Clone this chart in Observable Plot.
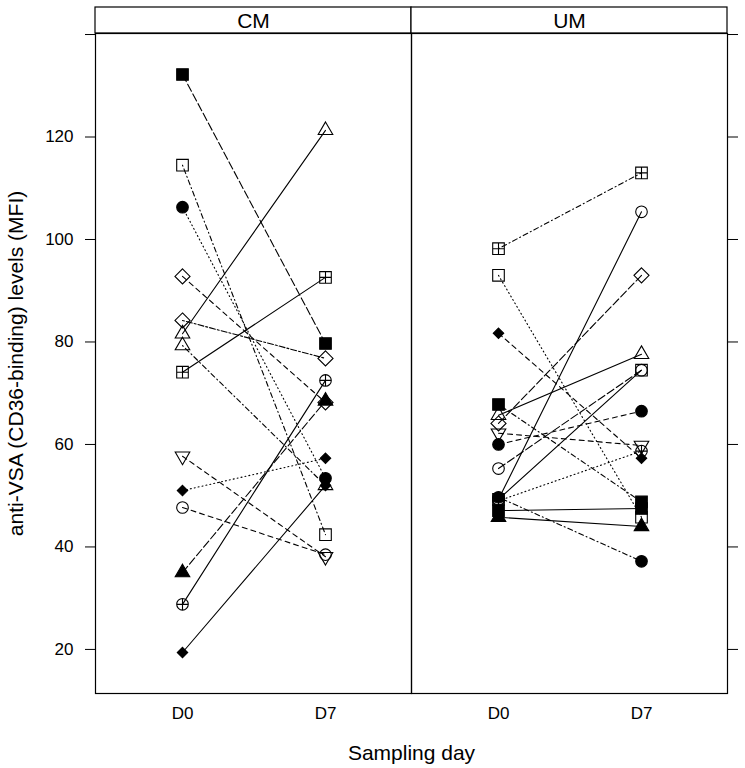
<!DOCTYPE html>
<html><head><meta charset="utf-8">
<script src="https://cdn.jsdelivr.net/npm/d3@7"></script>
<script src="https://cdn.jsdelivr.net/npm/@observablehq/plot@0.6"></script>
<style>body{margin:0;background:#fff;} svg{display:block}</style>
</head><body><div id="chart"></div>
<script>
const panels = ["CM", "UM"];
const days = ["D0", "D7"];
const yTicks = [20, 40, 60, 80, 100, 120, 140];

// CM subjects
const cmSymbol = ["filledSquare","openSquare","filledCircle","openDiamond","openDiamond","openTriangle","openTriangle","squarePlus","invTriangle","filledDiamond","openCircle","filledTriangle","circlePlus","filledDiamond"];
const cmLine   = ["longdash","dotdash","dotted","dashed","twodash","solid","dotdash","solid","dashed","dotted","dashed","longdash","solid","solid"];
const cmD0     = [132.2, 114.5, 106.3, 92.8, 84.2, 81.6, 79.3, 74.1, 57.7, 51.0, 47.7, 35.0, 28.8, 19.4];
const cmD7     = [79.7, 42.4, 53.4, 68.2, 76.8, 121.3, 52.0, 92.6, 38.1, 57.3, 38.5, 68.5, 72.5, 52.0];

// UM subjects
const umSymbol = ["squarePlus","openSquare","filledDiamond","filledSquare","openTriangle","openDiamond","invTriangle","filledCircle","openCircle","openCircle","openSquare","circlePlus","filledCircle","filledSquare","filledTriangle"];
const umLine   = ["dotdash","dotted","dashed","dotdash","solid","longdash","dashed","dashed","longdash","solid","solid","dotted","dotdash","solid","solid"];
const umD0     = [98.2, 93.0, 81.7, 67.8, 65.7, 64.1, 62.2, 60.0, 55.3, 49.3, 49.3, 49.0, 49.7, 47.1, 45.8];
const umD7     = [113.0, 45.8, 57.3, 48.8, 77.6, 93.0, 59.8, 66.5, 74.5, 105.4, 74.5, 58.7, 37.2, 47.5, 44.0];

const rows = [];
function addPanel(panel, sym, lty, d0, d7) {
  sym.forEach((s, i) => {
    const id = panel + i;
    rows.push({panel, id, symbol: s, lty: lty[i], day: days[0], value: d0[i]});
    rows.push({panel, id, symbol: s, lty: lty[i], day: days[1], value: d7[i]});
  });
}
addPanel(panels[0], cmSymbol, cmLine, cmD0, cmD7);
addPanel(panels[1], umSymbol, umLine, umD0, umD7);

// symbol shapes (R pch look-alikes)
const rad = s => Math.sqrt(s / Math.PI);
const poly = (ctx, pts) => { ctx.moveTo(pts[0][0], pts[0][1]); pts.slice(1).forEach(p => ctx.lineTo(p[0], p[1])); ctx.closePath(); };
const shapes = {
  square: {draw(ctx, s){ const r = rad(s); poly(ctx, [[-r,-r],[r,-r],[r,r],[-r,r]]); }},
  circle: {draw(ctx, s){ const r = rad(s); ctx.moveTo(r, 0); ctx.arc(0, 0, r, 0, 2*Math.PI); }},
  triUp: {draw(ctx, s){ const t = rad(s)*1.45; poly(ctx, [[0,-t],[t*0.866,t*0.5],[-t*0.866,t*0.5]]); }},
  triDown: {draw(ctx, s){ const t = rad(s)*1.45; poly(ctx, [[0,t],[t*0.866,-t*0.5],[-t*0.866,-t*0.5]]); }},
  diamond: {draw(ctx, s){ const d = rad(s)*1.3; poly(ctx, [[0,-d],[d,0],[0,d],[-d,0]]); }},
  smallDiamond: {draw(ctx, s){ const d = rad(s)*0.9; poly(ctx, [[0,-d],[d,0],[0,d],[-d,0]]); }},
  squarePlus: {draw(ctx, s){ const r = rad(s); poly(ctx, [[-r,-r],[r,-r],[r,r],[-r,r]]); ctx.moveTo(-r,0); ctx.lineTo(r,0); ctx.moveTo(0,-r); ctx.lineTo(0,r); }},
  circlePlus: {draw(ctx, s){ const r = rad(s); ctx.moveTo(r, 0); ctx.arc(0, 0, r, 0, 2*Math.PI); ctx.moveTo(-r,0); ctx.lineTo(r,0); ctx.moveTo(0,-r); ctx.lineTo(0,r); }}
};
const symbolDefs = {
  filledSquare: {shape: shapes.square, filled: true},
  openSquare: {shape: shapes.square, filled: false},
  filledCircle: {shape: shapes.circle, filled: true},
  openCircle: {shape: shapes.circle, filled: false},
  openDiamond: {shape: shapes.diamond, filled: false},
  filledDiamond: {shape: shapes.smallDiamond, filled: true},
  openTriangle: {shape: shapes.triUp, filled: false},
  filledTriangle: {shape: shapes.triUp, filled: true},
  invTriangle: {shape: shapes.triDown, filled: false},
  squarePlus: {shape: shapes.squarePlus, filled: false},
  circlePlus: {shape: shapes.circlePlus, filled: false}
};
const dashes = {solid: null, dashed: "5,4", dotted: "1,3", dotdash: "1,3,5,3", longdash: "8,3", twodash: "2,2,6,2"};

const lineMarks = Object.keys(dashes).map(k =>
  Plot.line(rows.filter(r => r.lty === k), {
    x: "day", y: "value", z: "id", fx: "panel",
    stroke: "black", strokeWidth: 1.1, strokeDasharray: dashes[k]
  }));
const dotMarks = Object.keys(symbolDefs).map(k =>
  Plot.dot(rows.filter(r => r.symbol === k), {
    x: "day", y: "value", fx: "panel",
    symbol: symbolDefs[k].shape, r: 5.8,
    fill: symbolDefs[k].filled ? "black" : "none",
    stroke: "black", strokeWidth: 1.1
  }));

const chart = Plot.plot({
  width: 745, height: 768,
  marginLeft: 95, marginRight: 18, marginTop: 33, marginBottom: 75,
  style: {fontFamily: "'Liberation Sans', Arial, sans-serif", fontSize: "17px", color: "black", background: "white"},
  fx: {domain: panels, padding: 0},
  x: {type: "point", domain: days, padding: 0.6},
  y: {domain: [11.4, 140.2]},
  marks: [
    ...lineMarks,
    ...dotMarks,
    Plot.frame({stroke: "black", strokeWidth: 1.2}),
    Plot.axisY({anchor: "left", ticks: yTicks, tickSize: 10, tickPadding: 12,
      tickFormat: d => d === 140 ? "" : String(d), fontSize: 17, label: null}),
    Plot.axisY({anchor: "left", ticks: [], tickSize: 0, fontSize: 21,
      label: "anti-VSA (CD36-binding) levels (MFI)", labelAnchor: "center", labelArrow: "none", labelOffset: 87}),
    Plot.axisY({anchor: "right", ticks: yTicks, tickSize: 10, tickFormat: () => "", label: null}),
    Plot.axisX({anchor: "bottom", tickSize: 0, tickPadding: 13, fontSize: 17, label: null}),
    Plot.axisFx({anchor: "top", tickSize: 0, tickPadding: 6, fontSize: 21, label: null}),
    Plot.axisFx({anchor: "bottom", tickSize: 0, tickFormat: () => "", fontSize: 21,
      label: "Sampling day", labelAnchor: "center", labelArrow: "none", labelOffset: 66})
  ]
});

// strip boxes above each panel
const fx = chart.scale("fx");
const svg = d3.select(chart);
const g = svg.insert("g", ":first-child");
panels.forEach(p => {
  g.append("rect")
    .attr("x", fx.apply(p)).attr("y", 7)
    .attr("width", fx.bandwidth).attr("height", 33 - 7)
    .attr("fill", "white").attr("stroke", "black").attr("stroke-width", 1.2);
});
document.getElementById("chart").appendChild(chart);
</script>
</body></html>
